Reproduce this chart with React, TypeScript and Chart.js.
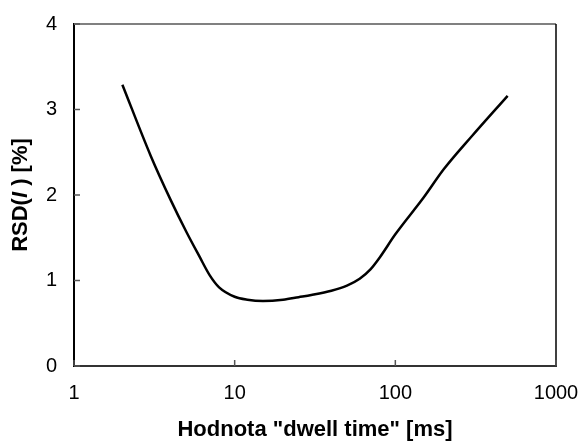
import React, { useEffect, useRef } from "react";
import { Chart, registerables } from "chart.js";

Chart.register(...registerables);

const dwellTimes = [2, 3, 4, 5, 6, 7, 8, 10, 12, 15, 20, 25, 30, 40, 50, 60, 70, 80, 100, 150, 200, 300, 500];
const rsdValues = [3.29, 2.46, 1.94, 1.57, 1.29, 1.06, 0.92, 0.81, 0.775, 0.76, 0.775, 0.805, 0.83, 0.88, 0.94, 1.02, 1.13, 1.27, 1.54, 1.97, 2.3, 2.69, 3.16];
const xTickValues = [1, 10, 100, 1000];
const yTickValues = [0, 1, 2, 3, 4];
const xTitle = 'Hodnota "dwell time" [ms]';

const FONT = "'Liberation Sans', Arial, sans-serif";

const framePlugin = {
  id: "frame",
  afterDraw(chart: any) {
    const { ctx, chartArea } = chart;
    const { left, right, top, bottom } = chartArea;
    const xs = chart.scales.x;
    const ys = chart.scales.y;
    ctx.save();
    ctx.strokeStyle = "#808080";
    ctx.lineWidth = 2;
    ctx.beginPath();
    ctx.moveTo(left, top);
    ctx.lineTo(right, top);
    ctx.stroke();
    ctx.strokeStyle = "#000";
    ctx.lineWidth = 1.5;
    ctx.beginPath();
    ctx.moveTo(right, top);
    ctx.lineTo(right, bottom);
    ctx.stroke();
    ctx.strokeStyle = "#555";
    ctx.lineWidth = 1.5;
    yTickValues.forEach((v) => {
      const py = ys.getPixelForValue(v);
      ctx.beginPath();
      ctx.moveTo(left, py);
      ctx.lineTo(left + 6, py);
      ctx.stroke();
    });
    xTickValues.forEach((v) => {
      const px = xs.getPixelForValue(v);
      ctx.beginPath();
      ctx.moveTo(px, bottom);
      ctx.lineTo(px, bottom - 6);
      ctx.stroke();
    });
    ctx.fillStyle = "#000";
    ctx.font = "bold 22px " + FONT;
    ctx.textAlign = "center";
    ctx.textBaseline = "middle";
    ctx.fillText(xTitle, (left + right) / 2, 430);
    const parts = [
      { t: "RSD(", f: "bold 22px " + FONT },
      { t: "I", f: "italic bold 22px " + FONT },
      { t: " ) [%]", f: "bold 22px " + FONT },
    ];
    let total = 0;
    parts.forEach((p) => {
      ctx.font = p.f;
      total += ctx.measureText(p.t).width;
    });
    ctx.translate(21, (top + bottom) / 2);
    ctx.rotate(-Math.PI / 2);
    ctx.textAlign = "left";
    let cx = -total / 2;
    parts.forEach((p) => {
      ctx.font = p.f;
      ctx.fillText(p.t, cx, 0);
      cx += ctx.measureText(p.t).width;
    });
    ctx.restore();
  },
};

export default function App() {
  const ref = useRef<HTMLCanvasElement>(null);
  useEffect(() => {
    const chart = new Chart(ref.current!, {
      type: "line",
      data: {
        datasets: [
          {
            data: dwellTimes.map((x, i) => ({ x, y: rsdValues[i] })),
            borderColor: "#000",
            borderWidth: 2.5,
            pointRadius: 0,
            cubicInterpolationMode: "monotone",
            fill: false,
          },
        ],
      },
      options: {
        animation: false,
        responsive: false,
        maintainAspectRatio: false,
        layout: { padding: { top: 24, right: 24, left: 0, bottom: 0 } },
        plugins: { legend: { display: false }, tooltip: { enabled: false } },
        scales: {
          x: {
            type: "logarithmic",
            min: 1,
            max: 1000,
            grid: { display: false, drawTicks: false },
            border: { display: true, color: "#333", width: 2 },
            afterBuildTicks: (s: any) => {
              s.ticks = xTickValues.map((v) => ({ value: v }));
            },
            afterFit: (s: any) => {
              s.height = 78;
              s.paddingLeft = 0;
              s.paddingRight = 0;
            },
            ticks: {
              autoSkip: false,
              maxRotation: 0,
              padding: 15,
              color: "#000",
              font: { family: FONT, size: 20 },
              callback: (v: any) => String(v),
            },
          },
          y: {
            min: 0,
            max: 4,
            grid: { display: false, drawTicks: false },
            border: { display: true, color: "#000", width: 2 },
            afterBuildTicks: (s: any) => {
              s.ticks = yTickValues.map((v) => ({ value: v }));
            },
            afterFit: (s: any) => {
              s.width = 74;
              s.paddingTop = 0;
              s.paddingBottom = 0;
            },
            ticks: {
              padding: 17,
              color: "#000",
              font: { family: FONT, size: 20 },
              callback: (v: any) => String(v),
            },
          },
        },
      },
      plugins: [framePlugin],
    } as any);
    return () => chart.destroy();
  }, []);
  return (
    <div style={{ position: "fixed", left: 0, top: 0, width: 580, height: 444, background: "#fff" }}>
      <canvas ref={ref} width={580} height={444} style={{ width: 580, height: 444 }} />
    </div>
  );
}
